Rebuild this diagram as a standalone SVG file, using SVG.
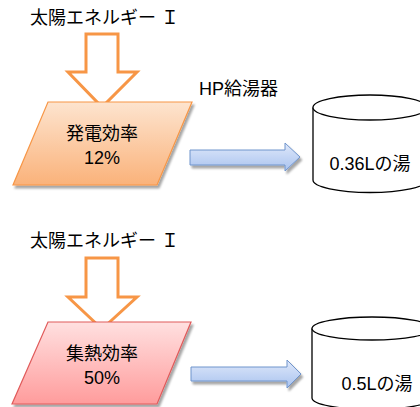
<svg xmlns="http://www.w3.org/2000/svg" width="420" height="407" viewBox="0 0 420 407">
<defs>
<linearGradient id="gOrange" x1="0" y1="0" x2="0" y2="1"><stop offset="0" stop-color="#fde4cf"/><stop offset="1" stop-color="#fab27a"/></linearGradient>
<linearGradient id="gRed" x1="0" y1="0" x2="0" y2="1"><stop offset="0" stop-color="#ffe0e0"/><stop offset="1" stop-color="#ff9c9c"/></linearGradient>
<linearGradient id="gBlue" x1="0" y1="0" x2="0" y2="1"><stop offset="0" stop-color="#dfe8fa"/><stop offset="1" stop-color="#a9c3ef"/></linearGradient>
<filter id="sh" x="-10%" y="-10%" width="130%" height="140%"><feDropShadow dx="2" dy="3" stdDeviation="1.2" flood-color="#000" flood-opacity="0.35"/></filter>
</defs>
<style>
text{font-family:"Liberation Sans","Noto Sans CJK JP",sans-serif;fill:#000;font-size:18px}
.hollow{fill:#fff;stroke:#f79646;stroke-width:3;stroke-linejoin:miter}
.blue{fill:url(#gBlue);stroke:#6f94cc;stroke-width:1;filter:url(#sh)}
.cyl{fill:#fff;stroke:#000;stroke-width:1.3}
</style>

<g id="connectors">
<path class="hollow" d="M86,34 H118 V72 H137 L102,107 L68,72 H86 Z"/>
<path class="blue" d="M190,150 H285 V143 L300,157 L285,171 V165 H190 Z"/>
<path class="hollow" d="M86,258 H118 V297 H137 L102,329 L68,297 H86 Z"/>
<path class="blue" d="M191,367 H287 V360 L301,374 L287,388 V381 H191 Z"/>
</g>

<g id="label-solar1"><text x="30" y="24">太陽エネルギー Ｉ</text></g>
<g id="label-hp"><text x="199" y="95">HP給湯器</text></g>

<g id="node-gen">
<path d="M48,102 H192 L157,185 H13 Z" fill="url(#gOrange)" stroke="#f79646" stroke-width="1.2" filter="url(#sh)"/>
<text x="102" y="140" text-anchor="middle">発電効率</text>
<text x="102" y="164" text-anchor="middle">12%</text>
</g>

<g id="node-tank1">
<path class="cyl" d="M313,107.5 V180 A57,12.5 0 0 0 427,180 V107.5"/>
<ellipse class="cyl" cx="370" cy="107.5" rx="57" ry="12.5"/>
<text x="370" y="170" text-anchor="middle">0.36Lの湯</text>
</g>

<g id="label-solar2"><text x="30" y="247">太陽エネルギー Ｉ</text></g>

<g id="node-heat">
<path d="M48,322 H191 L157,404 H12 Z" fill="url(#gRed)" stroke="#e05a5a" stroke-width="1.2" filter="url(#sh)"/>
<text x="102" y="360" text-anchor="middle">集熱効率</text>
<text x="102" y="384" text-anchor="middle">50%</text>
</g>

<g id="node-tank2">
<path class="cyl" d="M312,328.5 V398 A60,11.5 0 0 0 432,398 V328.5"/>
<ellipse class="cyl" cx="372" cy="328.5" rx="60" ry="11.5"/>
<text x="377" y="390" text-anchor="middle">0.5Lの湯</text>
</g>
</svg>
